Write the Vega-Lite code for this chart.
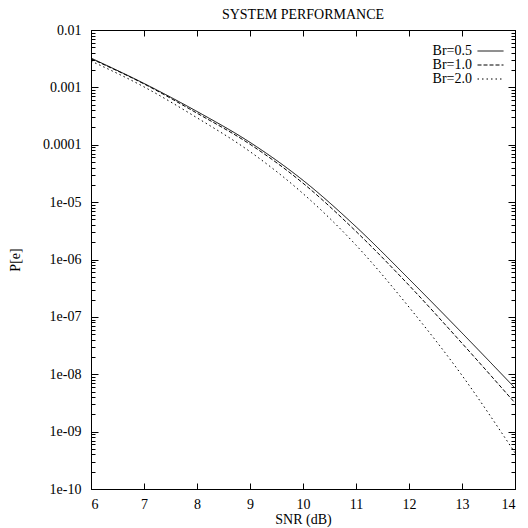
{
  "$schema": "https://vega.github.io/schema/vega-lite/v6.json",
  "width": 424,
  "height": 459,
  "autosize": {"type": "none"},
  "padding": {"left": 91, "top": 30, "right": 13, "bottom": 39},
  "background": "white",
  "title": {"text": "SYSTEM PERFORMANCE", "font": "Liberation Serif", "fontSize": 14, "fontWeight": "normal", "offset": 1, "anchor": "middle", "color": "black"},
  "config": {
    "view": {"stroke": "black", "strokeWidth": 1},
    "font": "Liberation Serif",
    "axis": {"domainColor": "black", "tickColor": "black", "labelColor": "black", "titleColor": "black", "labelFont": "Liberation Serif", "titleFont": "Liberation Serif", "labelFontSize": 14, "titleFontSize": 14, "titleFontWeight": "normal", "grid": false}
  },
  "data": {"values": [
    {"snr": 6, "p": 3.24e-3, "series": "Br=0.5"},
    {"snr": 7, "p": 1.17e-3, "series": "Br=0.5"},
    {"snr": 8, "p": 3.80e-4, "series": "Br=0.5"},
    {"snr": 9, "p": 1.10e-4, "series": "Br=0.5"},
    {"snr": 10, "p": 2.40e-5, "series": "Br=0.5"},
    {"snr": 11, "p": 3.72e-6, "series": "Br=0.5"},
    {"snr": 12, "p": 4.57e-7, "series": "Br=0.5"},
    {"snr": 13, "p": 5.25e-8, "series": "Br=0.5"},
    {"snr": 14, "p": 5.75e-9, "series": "Br=0.5"},
    {"snr": 6, "p": 3.16e-3, "series": "Br=1.0"},
    {"snr": 7, "p": 1.15e-3, "series": "Br=1.0"},
    {"snr": 8, "p": 3.55e-4, "series": "Br=1.0"},
    {"snr": 9, "p": 1.02e-4, "series": "Br=1.0"},
    {"snr": 10, "p": 2.14e-5, "series": "Br=1.0"},
    {"snr": 11, "p": 3.09e-6, "series": "Br=1.0"},
    {"snr": 12, "p": 3.55e-7, "series": "Br=1.0"},
    {"snr": 13, "p": 3.47e-8, "series": "Br=1.0"},
    {"snr": 14, "p": 3.16e-9, "series": "Br=1.0"},
    {"snr": 6, "p": 2.88e-3, "series": "Br=2.0"},
    {"snr": 7, "p": 1.02e-3, "series": "Br=2.0"},
    {"snr": 8, "p": 2.95e-4, "series": "Br=2.0"},
    {"snr": 9, "p": 7.59e-5, "series": "Br=2.0"},
    {"snr": 10, "p": 1.41e-5, "series": "Br=2.0"},
    {"snr": 11, "p": 1.78e-6, "series": "Br=2.0"},
    {"snr": 12, "p": 1.48e-7, "series": "Br=2.0"},
    {"snr": 13, "p": 9.55e-9, "series": "Br=2.0"},
    {"snr": 14, "p": 4.27e-10, "series": "Br=2.0"}
  ]},
  "layer": [
    {
      "mark": {"type": "line", "color": "black", "strokeWidth": 1, "interpolate": "monotone"},
      "encoding": {
        "x": {"field": "snr", "type": "quantitative", "scale": {"domain": [6, 14], "nice": false, "zero": false},
              "axis": {"title": "SNR (dB)", "values": [6, 7, 8, 9, 10, 11, 12, 13, 14], "tickSize": -6, "labelPadding": 14, "titlePadding": 1, "format": "d"}},
        "y": {"field": "p", "type": "quantitative", "scale": {"type": "log", "domain": [1e-10, 0.01], "nice": false},
              "axis": {"title": "P[e]", "titlePadding": 20,
                "values": [1e-10, 2e-10, 3e-10, 4e-10, 5e-10, 6e-10, 7e-10, 8e-10, 9e-10, 1e-9, 2e-9, 3e-9, 4e-9, 5e-9, 6e-9, 7e-9, 8e-9, 9e-9, 1e-8, 2e-8, 3e-8, 4e-8, 5e-8, 6e-8, 7e-8, 8e-8, 9e-8, 1e-7, 2e-7, 3e-7, 4e-7, 5e-7, 6e-7, 7e-7, 8e-7, 9e-7, 1e-6, 2e-6, 3e-6, 4e-6, 5e-6, 6e-6, 7e-6, 8e-6, 9e-6, 1e-5, 2e-5, 3e-5, 4e-5, 5e-5, 6e-5, 7e-5, 8e-5, 9e-5, 1e-4, 2e-4, 3e-4, 4e-4, 5e-4, 6e-4, 7e-4, 8e-4, 9e-4, 1e-3, 2e-3, 3e-3, 4e-3, 5e-3, 6e-3, 7e-3, 8e-3, 9e-3, 1e-2],
                "labelExpr": "abs(log(datum.value)/LN10 - round(log(datum.value)/LN10)) > 0.001 ? '' : (datum.value >= 0.0001 ? format(datum.value, '~g') : '1e-' + (round(-log(datum.value)/LN10) < 10 ? '0' : '') + round(-log(datum.value)/LN10))",
                "tickSize": {"condition": {"test": "abs(log(datum.value)/LN10 - round(log(datum.value)/LN10)) < 0.001", "value": -7}, "value": -4},
                "labelPadding": 17}},
        "strokeDash": {"field": "series", "type": "nominal",
          "scale": {"domain": ["Br=0.5", "Br=1.0", "Br=2.0"], "range": [[1, 0], [4, 2], [1.5, 3]]},
          "legend": {"orient": "none", "legendX": 386, "legendY": 14, "title": null, "symbolType": "M-1,0H3", "symbolSize": 169, "symbolStrokeColor": "black", "symbolStrokeWidth": 1, "labelAlign": "right", "labelOffset": -19, "labelFont": "Liberation Serif", "labelFontSize": 14, "labelColor": "black", "rowPadding": 0, "padding": 0}}
      }
    },
    {
      "mark": {"type": "line", "strokeOpacity": 0},
      "encoding": {
        "x": {"field": "snr", "type": "quantitative", "axis": {"orient": "top", "title": null, "labels": false, "values": [6, 7, 8, 9, 10, 11, 12, 13, 14], "tickSize": -6}},
        "y": {"field": "p", "type": "quantitative",
              "axis": {"orient": "right", "title": null, "labels": false,
                "values": [1e-10, 2e-10, 3e-10, 4e-10, 5e-10, 6e-10, 7e-10, 8e-10, 9e-10, 1e-9, 2e-9, 3e-9, 4e-9, 5e-9, 6e-9, 7e-9, 8e-9, 9e-9, 1e-8, 2e-8, 3e-8, 4e-8, 5e-8, 6e-8, 7e-8, 8e-8, 9e-8, 1e-7, 2e-7, 3e-7, 4e-7, 5e-7, 6e-7, 7e-7, 8e-7, 9e-7, 1e-6, 2e-6, 3e-6, 4e-6, 5e-6, 6e-6, 7e-6, 8e-6, 9e-6, 1e-5, 2e-5, 3e-5, 4e-5, 5e-5, 6e-5, 7e-5, 8e-5, 9e-5, 1e-4, 2e-4, 3e-4, 4e-4, 5e-4, 6e-4, 7e-4, 8e-4, 9e-4, 1e-3, 2e-3, 3e-3, 4e-3, 5e-3, 6e-3, 7e-3, 8e-3, 9e-3, 1e-2],
                "tickSize": {"condition": {"test": "abs(log(datum.value)/LN10 - round(log(datum.value)/LN10)) < 0.001", "value": -7}, "value": -4}}},
        "detail": {"field": "series", "type": "nominal"}
      }
    }
  ],
  "resolve": {"axis": {"x": "independent", "y": "independent"}}
}
